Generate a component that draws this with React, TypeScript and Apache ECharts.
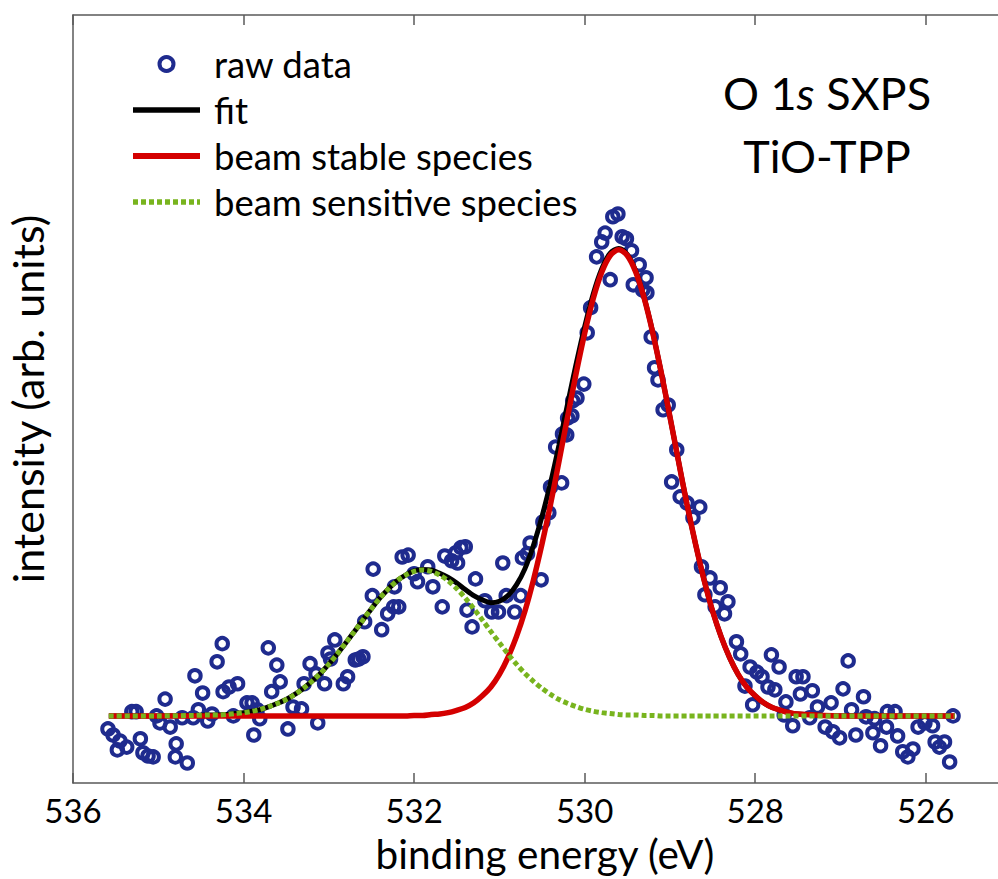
import React, { useEffect, useRef } from 'react';
import * as echarts from 'echarts';

// binding energy (eV) and intensity (% of main fitted peak, arb. units)
const rawEnergy = [
  535.59, 535.53, 535.48, 535.45, 535.37, 535.31, 535.26, 535.21, 535.18, 535.12,
  535.06, 535.02, 534.98, 534.92, 534.86, 534.80, 534.79, 534.72, 534.66, 534.59,
  534.57, 534.53, 534.48, 534.42, 534.37, 534.31, 534.25, 534.24, 534.17, 534.12,
  534.07, 533.96, 533.90, 533.88, 533.84, 533.81, 533.71, 533.67, 533.61, 533.57,
  533.48, 533.42, 533.32, 533.29, 533.22, 533.15, 533.13, 533.05, 533.01, 532.98,
  532.93, 532.83, 532.78, 532.69, 532.65, 532.60, 532.58, 532.49, 532.48, 532.38,
  532.31, 532.24, 532.23, 532.18, 532.14, 532.07, 532.00, 531.96, 531.84, 531.78,
  531.67, 531.64, 531.56, 531.51, 531.49, 531.45, 531.40, 531.38, 531.32, 531.28,
  531.17, 531.09, 531.01, 530.96, 530.92, 530.82, 530.75, 530.73, 530.67, 530.64,
  530.51, 530.49, 530.42, 530.40, 530.34, 530.27, 530.26, 530.21, 530.20, 530.15,
  530.14, 530.09, 530.01, 529.97, 529.93, 529.86, 529.80, 529.76, 529.70, 529.67,
  529.61, 529.56, 529.51, 529.45, 529.43, 529.36, 529.32, 529.28, 529.27, 529.22,
  529.18, 529.14, 529.08, 529.02, 528.98, 528.92, 528.88, 528.80, 528.73, 528.65,
  528.63, 528.59, 528.53, 528.47, 528.41, 528.36, 528.32, 528.22, 528.17, 528.12,
  528.06, 528.03, 527.98, 527.92, 527.85, 527.81, 527.77, 527.72, 527.66, 527.64,
  527.56, 527.52, 527.47, 527.44, 527.36, 527.33, 527.27, 527.18, 527.11, 527.09,
  527.01, 526.97, 526.91, 526.87, 526.82, 526.73, 526.70, 526.62, 526.60, 526.53,
  526.46, 526.45, 526.36, 526.33, 526.27, 526.21, 526.15, 526.09, 526.01, 525.92,
  525.89, 525.84, 525.78, 525.72, 525.68,
];
const rawIntensity = [
  -2.8, -4.1, -7.3, -5.4, -6.7, 0.9, 0.9, -4.9, -7.9, -8.6,
  -8.8, 0.0, -1.5, 3.6, -2.4, -8.8, -6.0, -0.4, -10.1, -0.4,
  8.6, 1.3, 4.9, -1.1, 0.4, 11.6, 15.5, 5.2, 6.2, 0.0,
  6.9, 2.8, 2.8, -4.1, 1.3, -0.6, 14.6, 5.2, 10.9, 7.3,
  -2.8, 1.9, 1.5, 6.9, 11.2, 9.0, -1.5, 6.9, 13.5, 12.2,
  16.3, 6.9, 8.4, 12.0, 12.2, 12.7, 20.2, 25.8, 31.5, 18.5,
  21.9, 23.4, 27.7, 23.4, 34.1, 34.5, 30.5, 28.8, 32.0, 27.7,
  23.4, 34.3, 33.3, 35.0, 32.8, 36.1, 36.3, 22.7, 19.1, 29.4,
  24.7, 22.3, 22.3, 32.8, 25.8, 22.3, 25.8, 33.9, 34.8, 37.1,
  29.2, 41.6, 43.6, 49.1, 57.7, 50.0, 60.5, 60.3, 63.9, 64.4,
  67.6, 68.2, 71.2, 82.2, 87.6, 98.5, 101.7, 103.6, 93.6, 107.1,
  107.7, 102.8, 102.4, 99.8, 92.5, 96.8, 91.4, 94.0, 90.8, 81.3,
  74.7, 72.1, 65.7, 66.7, 50.2, 57.1, 47.0, 45.7, 42.5, 44.8,
  32.0, 26.0, 29.6, 23.4, 27.5, 21.9, 24.5, 15.9, 13.3, 6.4,
  10.5, 2.4, 9.4, 8.4, 6.2, 13.1, 5.6, 10.5, 0.2, 3.0,
  -2.1, 8.4, 4.7, 8.4, -0.4, 5.4, 1.9, -2.4, 2.8, -3.4,
  -4.7, 5.8, 11.8, 1.3, -4.1, 4.1, -0.2, -3.6, -0.6, -6.4,
  -2.4, 0.9, 0.9, -4.3, -7.7, -8.8, -7.1, -2.4, -1.5, -2.1,
  -5.6, -6.7, -5.6, -9.9, 0.0,
];

const fitEnergy = [
  535.58, 535.0, 534.6, 534.4, 534.3, 534.2, 534.1, 534.0, 533.9, 533.8,
  533.7, 533.6, 533.5, 533.4, 533.3, 533.2, 533.1, 533.0, 532.9, 532.8,
  532.7, 532.6, 532.5, 532.4, 532.3, 532.2, 532.1, 532.0, 531.9, 531.8,
  531.7, 531.6, 531.5, 531.4, 531.3, 531.2, 531.1, 531.0, 530.9, 530.8,
  530.7, 530.6, 530.5, 530.4, 530.3, 530.2, 530.1, 530.0, 529.9, 529.8,
  529.7, 529.6, 529.5, 529.4, 529.3, 529.2, 529.1, 529.0, 528.9, 528.8,
  528.7, 528.6, 528.5, 528.4, 528.3, 528.2, 528.1, 528.0, 527.9, 527.8,
  527.7, 527.6, 527.5, 527.0, 526.5, 526.0, 525.66,
];
const fitTotal = [
  0, 0, 0.1, 0.2, 0.2, 0.3, 0.5, 0.7, 1.0, 1.4,
  2.0, 2.7, 3.5, 4.6, 5.9, 7.4, 9.1, 11.1, 13.3, 15.7,
  18.1, 20.6, 23.0, 25.3, 27.3, 29.0, 30.2, 31.1, 31.4, 31.3,
  30.6, 29.7, 28.5, 27.1, 25.8, 24.9, 24.3, 24.6, 25.8, 28.1,
  31.6, 36.6, 42.8, 50.0, 58.2, 66.9, 75.5, 83.5, 90.5, 95.9,
  99.3, 100.3, 99.0, 95.4, 89.6, 82.2, 73.5, 64.2, 54.7, 45.4,
  36.9, 29.2, 22.5, 17.0, 12.5, 8.9, 6.2, 4.3, 2.8, 1.8,
  1.2, 0.7, 0.4, 0, 0, 0, 0,
];
const stableSpecies = [
  0, 0, 0, 0, 0, 0, 0, 0, 0, 0,
  0, 0, 0, 0, 0, 0, 0, 0, 0, 0,
  0, 0, 0, 0, 0, 0, 0, 0.1, 0.1, 0.3,
  0.4, 0.7, 1.2, 1.8, 2.8, 4.3, 6.2, 8.9, 12.5, 17.0,
  22.5, 29.2, 36.9, 45.4, 54.7, 64.2, 73.5, 82.1, 89.5, 95.2,
  98.8, 100, 98.8, 95.2, 89.5, 82.1, 73.5, 64.2, 54.7, 45.4,
  36.9, 29.2, 22.5, 17.0, 12.5, 8.9, 6.2, 4.3, 2.8, 1.8,
  1.2, 0.7, 0.4, 0, 0, 0, 0,
];
const sensitiveSpecies = [
  0, 0, 0.1, 0.2, 0.2, 0.3, 0.5, 0.7, 1.0, 1.4,
  2.0, 2.7, 3.5, 4.6, 5.9, 7.4, 9.1, 11.1, 13.3, 15.7,
  18.1, 20.6, 23.0, 25.3, 27.3, 29.0, 30.2, 31.0, 31.3, 31.0,
  30.2, 29.0, 27.3, 25.3, 23.0, 20.6, 18.1, 15.7, 13.3, 11.1,
  9.1, 7.4, 5.9, 4.6, 3.5, 2.7, 2.0, 1.4, 1.0, 0.7,
  0.5, 0.3, 0.2, 0.2, 0.1, 0.1, 0, 0, 0, 0,
  0, 0, 0, 0, 0, 0, 0, 0, 0, 0,
  0, 0, 0, 0, 0, 0, 0,
];

const energyTicks = [536, 534, 532, 530, 528, 526];
const seriesNames = ['raw data', 'fit', 'beam stable species', 'beam sensitive species'];

const FONT = 'Lato';
const AXIS_COLOR = '#5a5a5a';
const NAVY = '#1f2b8e';
const RED = '#d40000';
const GREEN = '#78b41e';

const zip = (xs: number[], ys: number[]) => xs.map((x, i) => [x, ys[i]]);

export default function App() {
  const ref = useRef<HTMLDivElement>(null);

  useEffect(() => {
    if (!ref.current) return;
    const chart = echarts.init(ref.current, null, { renderer: 'svg' });

    const axisLine = { show: true, onZero: false, lineStyle: { color: AXIS_COLOR, width: 1.5 } };
    const xCommon = {
      type: 'value',
      inverse: true,
      min: 524.93,
      max: 536,
      splitLine: { show: false },
      axisLine,
    };

    chart.setOption({
      animation: false,
      backgroundColor: '#ffffff',
      grid: { left: 73, top: 15, right: -19, bottom: 96, containLabel: false, outerBoundsMode: 'none' },
      legend: {
        orient: 'vertical',
        left: 130,
        top: 44,
        padding: 0,
        itemWidth: 67,
        itemHeight: 14,
        itemGap: 6,
        selectedMode: false,
        textStyle: { fontFamily: FONT, fontSize: 36.5, lineHeight: 40, color: '#000', padding: [0, 0, 0, 9] },
        data: [
          { name: seriesNames[0], itemStyle: { color: 'rgba(255,255,255,0)', borderColor: NAVY, borderWidth: 4, opacity: 1 } },
          { name: seriesNames[1], itemStyle: { opacity: 0 }, lineStyle: { width: 5.5, color: '#000' } },
          { name: seriesNames[2], itemStyle: { opacity: 0 }, lineStyle: { width: 6, color: RED } },
          { name: seriesNames[3], itemStyle: { opacity: 0 }, lineStyle: { width: 5.5, color: GREEN, type: [5, 3] } },
        ],
      },
      xAxis: [
        {
          ...xCommon,
          position: 'bottom',
          axisTick: { show: true, inside: true, length: 10, customValues: energyTicks, lineStyle: { color: AXIS_COLOR, width: 1.5 } },
          axisLabel: { show: true, customValues: energyTicks, fontFamily: FONT, fontSize: 33, color: '#000', margin: 10 },
          name: 'binding energy (eV)',
          nameLocation: 'middle',
          nameGap: 50,
          nameTextStyle: { fontFamily: FONT, fontSize: 40.5, lineHeight: 40, color: '#000' },
        },
        {
          ...xCommon,
          position: 'top',
          axisTick: { show: true, inside: true, length: 10, customValues: energyTicks, lineStyle: { color: AXIS_COLOR, width: 1.5 } },
          axisLabel: { show: false },
        },
      ],
      yAxis: {
        type: 'value',
        min: -14.4,
        max: 150.4,
        axisLine,
        axisTick: { show: false },
        axisLabel: { show: false },
        splitLine: { show: false },
        name: 'intensity (arb. units)',
        nameLocation: 'middle',
        nameGap: 24,
        nameTextStyle: { fontFamily: FONT, fontSize: 43, lineHeight: 44, color: '#000' },
      },
      graphic: [
        {
          type: 'text',
          x: 827,
          y: 61,
          style: {
            text: '{r|O 1}{i|s}{r| SXPS}\n{r|TiO-TPP}',
            align: 'center',
            verticalAlign: 'top',
            rich: {
              r: { fontFamily: FONT, fontSize: 45, lineHeight: 63, fill: '#000' },
              i: { fontFamily: FONT, fontSize: 45, lineHeight: 63, fontStyle: 'italic', fill: '#000' },
            },
          },
        },
      ],
      series: [
        {
          name: seriesNames[0],
          type: 'scatter',
          xAxisIndex: 0,
          data: zip(rawEnergy, rawIntensity),
          symbol: 'circle',
          symbolSize: 11.5,
          itemStyle: { color: 'rgba(255,255,255,0)', borderColor: NAVY, borderWidth: 4, opacity: 1 },
        },
        {
          name: seriesNames[1],
          type: 'line',
          xAxisIndex: 0,
          data: zip(fitEnergy, fitTotal),
          symbol: 'none',
          smooth: 0.3,
          itemStyle: { color: '#000' },
          lineStyle: { color: '#000', width: 5 },
        },
        {
          name: seriesNames[2],
          type: 'line',
          xAxisIndex: 0,
          data: zip(fitEnergy, stableSpecies),
          symbol: 'none',
          smooth: 0.3,
          itemStyle: { color: RED },
          lineStyle: { color: RED, width: 5.5 },
        },
        {
          name: seriesNames[3],
          type: 'line',
          xAxisIndex: 0,
          data: zip(fitEnergy, sensitiveSpecies),
          symbol: 'none',
          smooth: 0.3,
          itemStyle: { color: GREEN },
          lineStyle: { color: GREEN, width: 5, type: [5, 3] },
        },
      ],
    });

    return () => chart.dispose();
  }, []);

  return (
    <div
      ref={ref}
      style={{ position: 'fixed', left: 0, top: 0, width: 998, height: 879, background: '#fff' }}
    />
  );
}
